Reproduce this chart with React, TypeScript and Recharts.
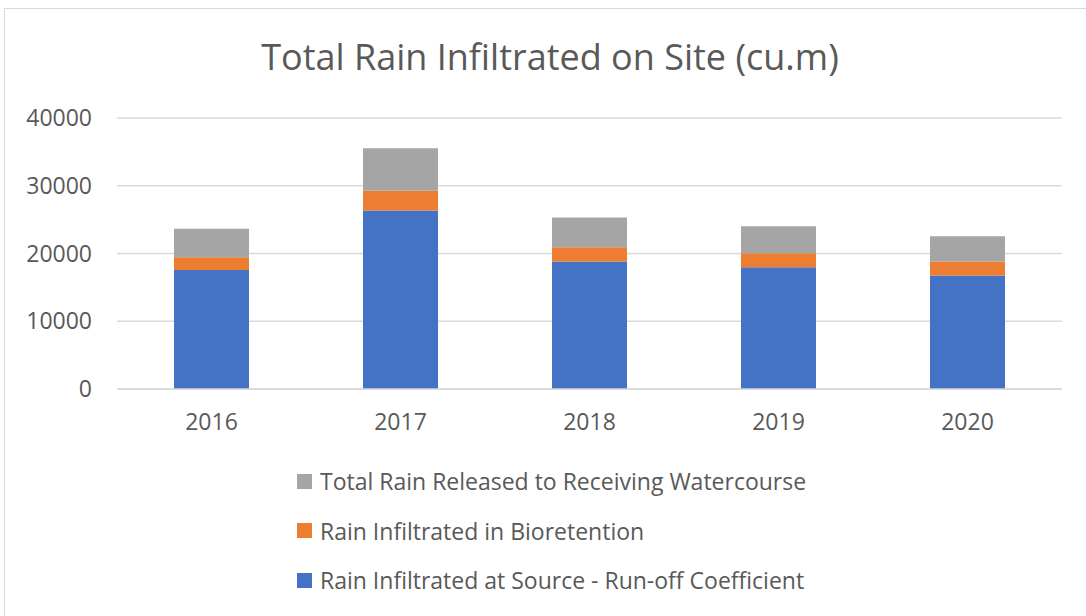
import React from "react";
import { BarChart, Bar, XAxis, YAxis, CartesianGrid } from "recharts";

const years = ["2016", "2017", "2018", "2019", "2020"];
const atSource = [17570, 26360, 18820, 17970, 16750];
const bioretention = [1880, 2900, 2110, 2070, 2070];
const released = [4190, 6270, 4390, 4000, 3740];
const yTicks = [0, 10000, 20000, 30000, 40000];

const seriesNames = [
  "Rain Infiltrated at Source - Run-off Coefficient",
  "Rain Infiltrated in Bioretention",
  "Total Rain Released to Receiving Watercourse",
];
const colors = ["#4472C4", "#ED7D31", "#A5A5A5"];

const data = years.map((year, i) => ({
  year,
  source: atSource[i],
  bio: bioretention[i],
  released: released[i],
}));

const font = "'Open Sans', sans-serif";
const textColor = "#595959";

const App = () => {
  return (
    <div style={{ position: "absolute", left: 0, top: 0, width: 1086, height: 616, overflow: "hidden", background: "#fff", fontFamily: font }}>
      <div style={{ position: "absolute", left: 4, top: 8, width: 1100, height: 620, border: "1px solid #D9D9D9" }} />
      <div style={{ position: "absolute", left: 0, top: 32, width: 1100, textAlign: "center", fontSize: 36, color: textColor, whiteSpace: "nowrap" }}>
        Total Rain Infiltrated on Site (cu.m)
      </div>
      <div style={{ position: "absolute", left: 0, top: 0 }}>
        <BarChart width={1086} height={616} data={data} margin={{ top: 118, right: 24, bottom: 167, left: 0 }}>
          <CartesianGrid vertical={false} stroke="#D9D9D9" strokeWidth={1.5} />
          <XAxis
            dataKey="year"
            axisLine={{ stroke: "#D9D9D9", strokeWidth: 1.5 }}
            tickLine={false}
            tickSize={0}
            tickMargin={25}
            height={60}
            tick={{ fill: textColor, fontSize: 23, fontFamily: font }}
          />
          <YAxis
            domain={[0, 40000]}
            ticks={yTicks}
            axisLine={false}
            tickLine={false}
            tickSize={0}
            tickMargin={25}
            width={117}
            tick={{ fill: textColor, fontSize: 23, fontFamily: font }}
          />
          <Bar dataKey="source" stackId="a" fill={colors[0]} barSize={75} isAnimationActive={false} />
          <Bar dataKey="bio" stackId="a" fill={colors[1]} barSize={75} isAnimationActive={false} />
          <Bar dataKey="released" stackId="a" fill={colors[2]} barSize={75} isAnimationActive={false} />
        </BarChart>
      </div>
      {[2, 1, 0].map((s, row) => (
        <div
          key={s}
          style={{ position: "absolute", left: 297, top: 467 + row * 49.5, height: 28, display: "flex", alignItems: "center", fontSize: 23, color: textColor, whiteSpace: "nowrap" }}
        >
          <span style={{ display: "inline-block", width: 15, height: 15, background: colors[s], marginRight: 8, flexShrink: 0 }} />
          {seriesNames[s]}
        </div>
      ))}
    </div>
  );
};

export default App;
